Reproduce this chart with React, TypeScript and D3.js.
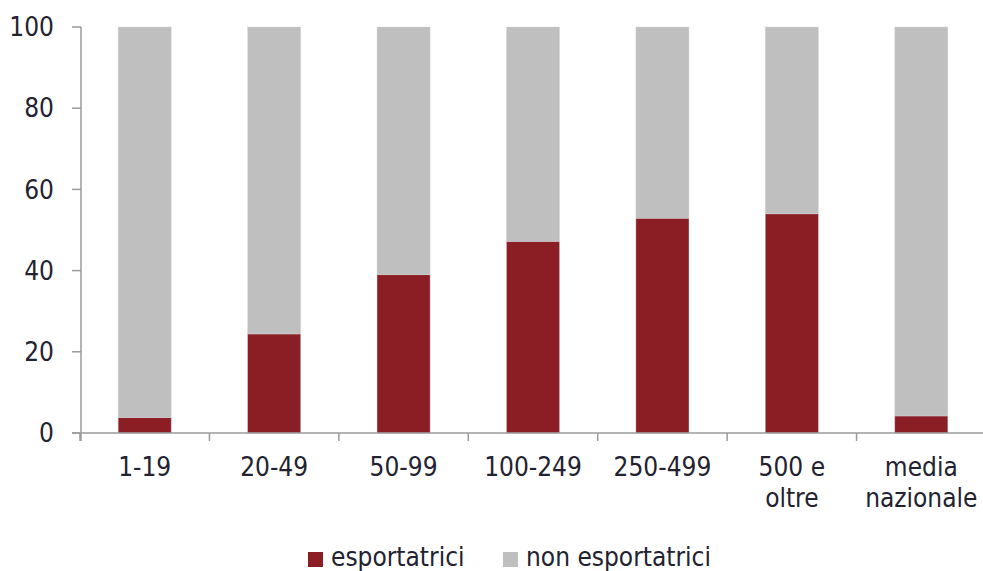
import React from "react";
import * as d3 from "d3";

const categories: string[][] = [
  ["1-19"],
  ["20-49"],
  ["50-99"],
  ["100-249"],
  ["250-499"],
  ["500 e", "oltre"],
  ["media", "nazionale"],
];
const esportatrici = [3.8, 24.4, 39.0, 47.2, 52.9, 54.0, 4.2];
const yTicks = [0, 20, 40, 60, 80, 100];
const seriesNames = ["esportatrici", "non esportatrici"];
const colors = ["#8B1D24", "#BFBFBF"];

const W = 983;
const H = 571;
const FONT = "'Liberation Sans Narrow', 'DejaVu Sans Condensed', 'Roboto Condensed', sans-serif";
const TEXT = "#222230";
const AXIS = "#9a9a9a";
const FS = 26;

export default function App() {
  const keys = categories.map((c) => c.join(" "));
  const x = d3
    .scaleBand<string>()
    .domain(keys)
    .range([80, 986])
    .paddingInner(0.59)
    .paddingOuter(0.295);
  const y = d3.scaleLinear().domain([0, 100]).range([433, 27]);
  const step = x.step();
  const bw = x.bandwidth();
  const gap = (step - bw) / 2;

  const rows = keys.map((k, i) => ({ key: k, esp: esportatrici[i], non: 100 - esportatrici[i] }));
  const stack = d3.stack<any>().keys(["esp", "non"])(rows);

  const boundaries = keys.map((k) => (x(k) as number) - gap);
  boundaries.push((x(keys[keys.length - 1]) as number) + bw + gap);

  return (
    <div>
      <style>{`body{margin:0}`}</style>
      <svg width={W} height={H} style={{ display: "block", fontFamily: FONT }}>
        <rect width={W} height={H} fill="#fff" />
        {stack.map((s, si) => (
          <g key={si}>
            {s.map((d, i) => (
              <rect
                key={i}
                x={x(keys[i]) as number}
                y={y(d[1])}
                width={bw}
                height={y(d[0]) - y(d[1])}
                fill={colors[si]}
                stroke="#d6d6d6"
                strokeOpacity={0.5}
                strokeWidth={0.8}
              />
            ))}
          </g>
        ))}
        {/* y axis */}
        <line x1={81} x2={81} y1={y(100)} y2={441} stroke={AXIS} strokeWidth={1.5} />
        {yTicks.map((t) => (
          <g key={t}>
            <line x1={72} x2={81} y1={y(t)} y2={y(t)} stroke={AXIS} strokeWidth={1.5} />
            <text x={54} y={y(t)} dy="0.35em" textAnchor="end" fontSize={FS} fill={TEXT}>
              {t}
            </text>
          </g>
        ))}
        {/* x axis */}
        <line x1={72} x2={W} y1={y(0)} y2={y(0)} stroke={AXIS} strokeWidth={1.5} />
        {boundaries.map((b, i) => (
          <line key={i} x1={b} x2={b} y1={y(0)} y2={441} stroke={AXIS} strokeWidth={1.5} />
        ))}
        {categories.map((lines, i) => (
          <text key={i} textAnchor="middle" fontSize={FS} fill={TEXT}>
            {lines.map((l, j) => (
              <tspan key={j} x={(x(keys[i]) as number) + bw / 2} y={476 + j * 31}>
                {l}
              </tspan>
            ))}
          </text>
        ))}
        {/* legend */}
        <rect x={308} y={552} width={15} height={15} fill={colors[0]} />
        <text x={331} y={566} fontSize={FS} fill={TEXT}>{seriesNames[0]}</text>
        <rect x={503} y={552} width={15} height={15} fill={colors[1]} />
        <text x={526} y={566} fontSize={FS} fill={TEXT}>{seriesNames[1]}</text>
      </svg>
    </div>
  );
}
